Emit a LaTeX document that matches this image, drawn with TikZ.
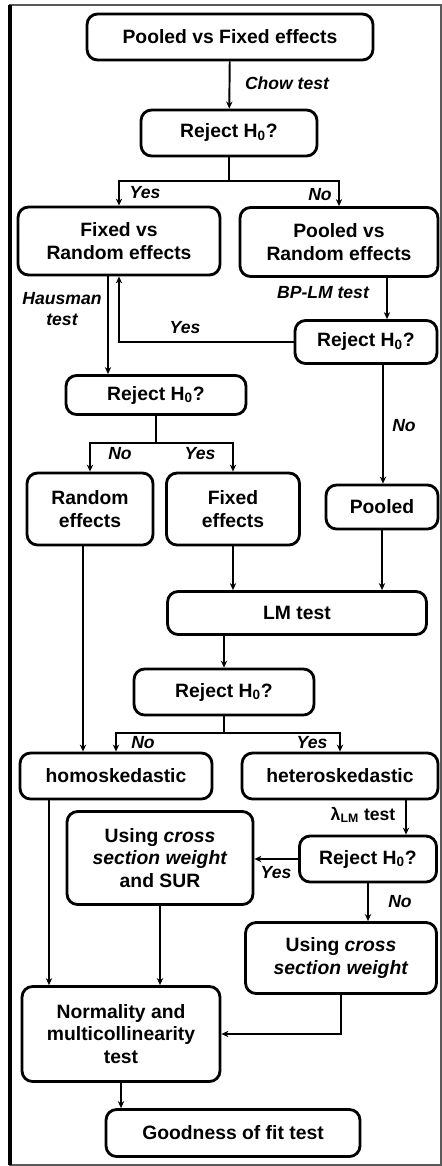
\documentclass[tikz,border=0pt]{standalone}
\usepackage{fontspec}
\setmainfont{Liberation Sans}
\usepackage{tikz}
\usetikzlibrary{arrows.meta,calc}
\definecolor{framegray}{RGB}{90,90,90}

\begin{document}
\begin{tikzpicture}[x=0.02cm,y=-0.02cm,>={Stealth[length=4pt,width=3.6pt]},
    box/.style={draw,line width=1.6pt,rounded corners=6pt,align=center,
                inner sep=2pt,font=\fontsize{11}{13}\selectfont\bfseries},
    lbl/.style={inner sep=0pt,font=\fontsize{10}{12}\selectfont\bfseries\itshape,align=center},
    flow/.style={line width=1.1pt}]
  % page and frame
  \useasboundingbox (0,0) rectangle (442,1166);
  \draw[framegray,line width=0.8pt] (10,5) rectangle (441,1165);
  \draw[line width=2pt] (10,5) -- (10,1165);
  % boxes
  \node[box,minimum width=5.72cm,minimum height=0.92cm] (pf) at (230,37) {Pooled vs Fixed effects};
  \node[box,minimum width=3.52cm,minimum height=0.92cm] (r1) at (229,133) {Reject H\textsubscript{0}?};
  \node[box,minimum width=4.04cm,minimum height=1.36cm] (fr) at (119,241) {Fixed vs\\Random effects};
  \node[box,minimum width=3.96cm,minimum height=1.38cm] (pr) at (339,242) {Pooled vs\\Random effects};
  \node[box,minimum width=2.84cm,minimum height=0.86cm] (r3) at (366,342) {Reject H\textsubscript{0}?};
  \node[box,minimum width=3.6cm,minimum height=0.78cm] (r2) at (156,395) {Reject H\textsubscript{0}?};
  \node[box,minimum width=2.52cm,minimum height=1.44cm] (re) at (90,509) {Random\\effects};
  \node[box,minimum width=2.66cm,minimum height=1.44cm] (fe) at (233,509) {Fixed\\effects};
  \node[box,minimum width=2.24cm,minimum height=0.88cm] (po) at (382,507) {Pooled};
  \node[box,minimum width=5.18cm,minimum height=0.86cm] (lm) at (297,613) {LM test};
  \node[box,minimum width=3.6cm,minimum height=0.92cm] (r4) at (224,692) {Reject H\textsubscript{0}?};
  \node[box,minimum width=3.84cm,minimum height=0.92cm] (ho) at (116,776) {homoskedastic};
  \node[box,minimum width=3.92cm,minimum height=0.92cm] (he) at (340,776) {heteroskedastic};
  \node[box,minimum width=2.74cm,minimum height=0.92cm] (r5) at (368,859) {Reject H\textsubscript{0}?};
  \node[box,minimum width=3.72cm,minimum height=1.86cm] (sur) at (160,858)
        {Using \textit{cross}\\\textit{section weight}\\and SUR};
  \node[box,minimum width=3.82cm,minimum height=1.42cm] (cw) at (341,958)
        {Using \textit{cross}\\\textit{section weight}};
  \node[box,minimum width=3.96cm,minimum height=1.9cm] (nm) at (121,1034)
        {Normality and\\multicollinearity\\test};
  \node[box,minimum width=5.08cm,minimum height=0.94cm] (gf) at (233,1133) {Goodness of fit test};
  % offsets of the arrows that leave a box off its centre
  \coordinate (hx) at (108,0);
  \coordinate (bx) at (387,0);
  \coordinate (nx) at (383,0);
  \coordinate (rx) at (83,0);
  \coordinate (lx) at (406,0);
  \coordinate (mx) at (49,0);
  \coordinate (j1) at (229,181);
  \coordinate (j2) at (156,443);
  \coordinate (j3) at (224,733);
  % connectors
  \draw[flow,->] (pf) -- (r1);
  \draw[flow] (r1) -- (j1);
  \draw[flow,->] (j1) -| (fr);
  \draw[flow,->] (j1) -| (pr);
  \draw[flow,->] (fr.south -| hx) -- (r2.north -| hx);
  \draw[flow,->] (pr.south -| bx) -- (r3.north -| bx);
  \draw[flow,->] (r3.west) -| (fr.south);
  \draw[flow,->] (r3.south -| nx) -- (po.north -| nx);
  \draw[flow] (r2) -- (j2);
  \draw[flow,->] (j2) -| (re);
  \draw[flow,->] (j2) -| (fe);
  \draw[flow,->] (fe.south) -- (fe.south |- lm.north);
  \draw[flow,->] (po.south) -- (po.south |- lm.north);
  \draw[flow,->] (re.south -| rx) -- (ho.north -| rx);
  \draw[flow,->] (lm.south -| r4) -- (r4);
  \draw[flow] (r4) -- (j3);
  \draw[flow,->] (j3) -| (ho);
  \draw[flow,->] (j3) -| (he);
  \draw[flow,->] (he.south -| lx) -- (r5.north -| lx);
  \draw[flow,->] (r5.west) -- (r5.west -| sur.east);
  \draw[flow,->] (r5.south) -- (r5.south |- cw.north);
  \draw[flow,->] (ho.south -| mx) -- (nm.north -| mx);
  \draw[flow,->] (sur.south) -- (sur.south |- nm.north);
  \draw[flow,->] (cw.south) |- (nm.east);
  \draw[flow,->] (nm.south) -- (nm.south |- gf.north);
  % labels
  \node[lbl] (lchow) at (287,83) {Chow test};
  \node[lbl] (ly1) at (145,193) {Yes};
  \node[lbl] (ln1) at (320,195) {No};
  \node[lbl] (lhaus) at (62,309) {Hausman\\test};
  \node[lbl] (lbp) at (323,293) {BP-LM test};
  \node[lbl] (ly2) at (185,328) {Yes};
  \node[lbl] (ln2) at (404,426) {No};
  \node[lbl] (ln3) at (120,454) {No};
  \node[lbl] (ly3) at (200,454) {Yes};
  \node[lbl] (ln4) at (143,743) {No};
  \node[lbl] (ly4) at (312,743) {Yes};
  \node[lbl,font=\fontsize{10}{12}\selectfont\bfseries] (llam) at (363,815) {λ\textsubscript{LM} test};
  \node[lbl] (ly5) at (276,873) {Yes};
  \node[lbl] (ln5) at (400,902) {No};
\end{tikzpicture}
\end{document}
